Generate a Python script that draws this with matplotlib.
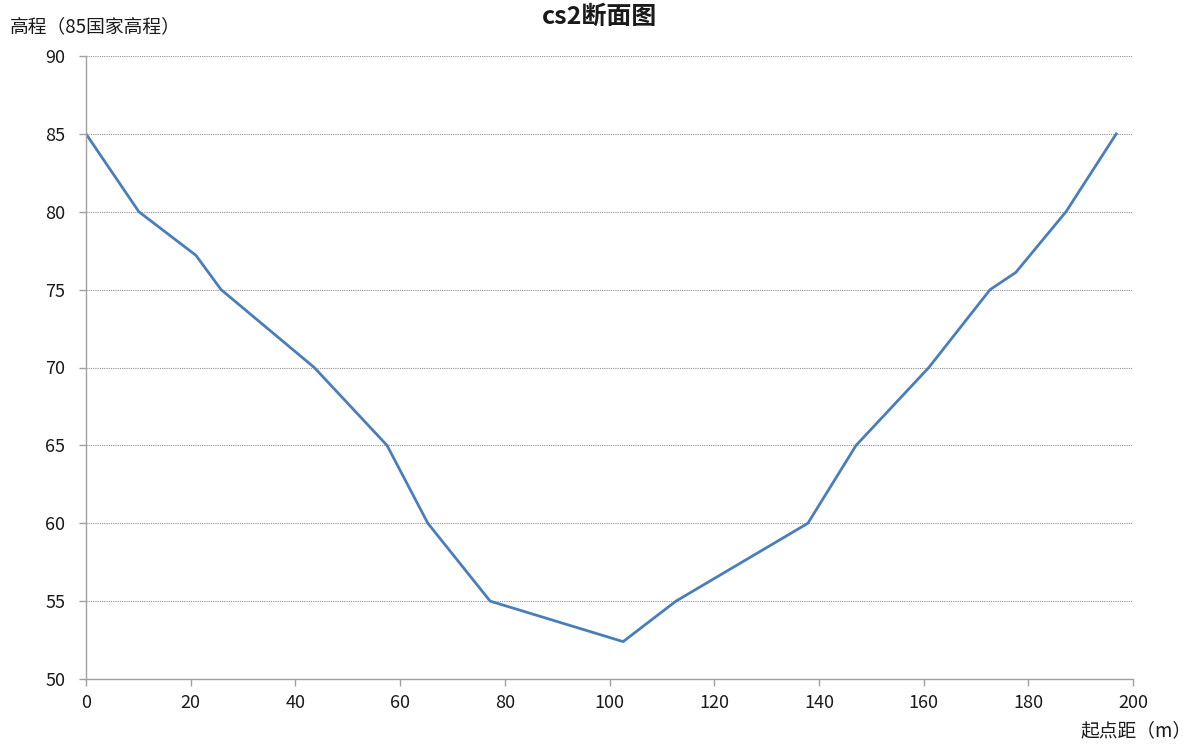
import matplotlib
matplotlib.use("Agg")
import matplotlib.pyplot as plt

plt.rcParams['font.family'] = ['Noto Sans CJK SC', 'DejaVu Sans']

distance = [0, 10.1, 21.0, 25.8, 43.6, 57.5, 65.3, 77.2, 102.6, 112.7, 137.9, 147.1, 161.0, 172.7, 177.6, 187.2, 196.8]
elevation = [85, 80, 77.2, 75, 70, 65, 60, 55, 52.4, 55, 60, 65, 70, 75, 76.1, 80, 85]
x_ticks = [0, 20, 40, 60, 80, 100, 120, 140, 160, 180, 200]
y_ticks = [50, 55, 60, 65, 70, 75, 80, 85, 90]

fig = plt.figure(figsize=(12, 7.47), dpi=100)
ax = fig.add_axes([86/1200, 68/747, (1133-86)/1200, (679-56)/747])

ax.plot(distance, elevation, color='#4A7EBB', lw=2.0, solid_joinstyle='round')

ax.set_xlim(0, 200)
ax.set_ylim(50, 90)
ax.set_xticks(x_ticks)
ax.set_yticks(y_ticks)
ax.yaxis.grid(True, linestyle=(0, (1, 1)), color='#909090', lw=0.8)
ax.set_axisbelow(True)
for s in ['top', 'right']:
    ax.spines[s].set_visible(False)
for s in ['left', 'bottom']:
    ax.spines[s].set_color('#A0A0A0')
    ax.spines[s].set_linewidth(1.0)
ax.tick_params(axis='both', colors='#A0A0A0', length=5, width=1.0, labelcolor='#1a1a1a', labelsize=13)
ax.tick_params(axis='y', pad=10)
ax.tick_params(axis='x', pad=6)

fig.text(600/1200, 1 - 17/747, 'cs2断面图', ha='center', va='center', fontsize=18, fontweight='bold', color='#1a1a1a')
fig.text(10/1200, 1 - 27/747, '高程（85国家高程）', ha='left', va='center', fontsize=13.5, color='#1a1a1a')
fig.text(1192/1200, 1 - 731/747, '起点距（m）', ha='right', va='center', fontsize=13.5, color='#1a1a1a')

fig.savefig('out.png', dpi=100)
